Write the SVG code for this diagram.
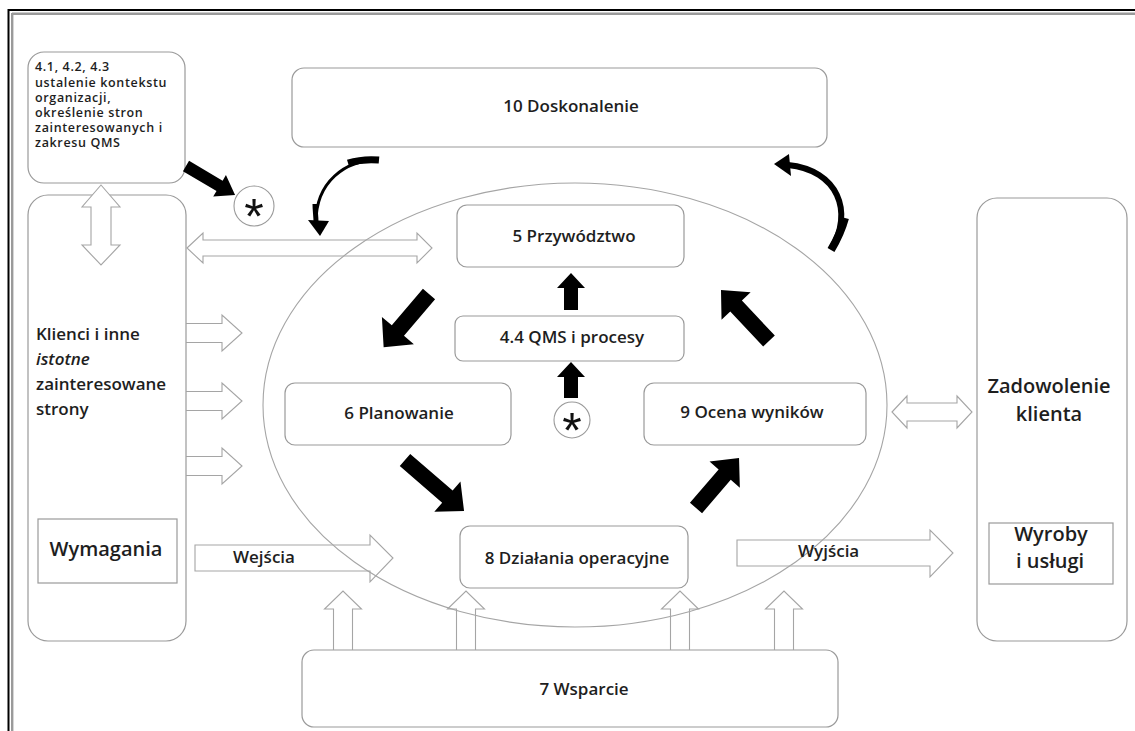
<svg xmlns="http://www.w3.org/2000/svg" width="1135" height="731" viewBox="0 0 1135 731">
<style>
.box{fill:#fff;stroke:#9a9a9a;stroke-width:1.2}
.hol{fill:none;stroke:#a5a5a5;stroke-width:1.1}
.holw{fill:#fff;stroke:#a5a5a5;stroke-width:1.1}
.blk{fill:#000}
.crv{fill:none;stroke:#000;stroke-linecap:butt}
.t{font-family:"Open Sans","Liberation Sans",sans-serif;font-weight:600;fill:#1e1e1e}
.c{text-anchor:middle}
.s17{font-size:17px}
.s20{font-size:20px}
.sm{font-size:12.5px;letter-spacing:0.65px}
.ast{font-family:"Liberation Sans",sans-serif;font-size:50px;fill:#111;text-anchor:middle}
</style>
<rect width="1135" height="731" fill="#fff"/>
<g id="frame">
<line x1="8.5" y1="9" x2="8.5" y2="731" stroke="#000" stroke-width="2"/>
<line x1="8" y1="10" x2="1135" y2="10" stroke="#000" stroke-width="2"/>
<line x1="12.2" y1="13" x2="12.2" y2="731" stroke="#9a9a9a" stroke-width="2.4"/>
<line x1="12" y1="13.7" x2="1135" y2="13.7" stroke="#9a9a9a" stroke-width="2.4"/>
</g>
<g id="loop">
<ellipse cx="575" cy="405" rx="312" ry="222" fill="none" stroke="#a5a5a5" stroke-width="1.1"/>
</g>
<g id="n_context">
<rect class="box" x="28" y="52" width="157" height="131" rx="16"/>
<text class="t sm" x="35" y="71">4.1, 4.2, 4.3</text>
<text class="t sm" x="35" y="87">ustalenie kontekstu</text>
<text class="t sm" x="35" y="102">organizacji,</text>
<text class="t sm" x="35" y="117">określenie stron</text>
<text class="t sm" x="35" y="132">zainteresowanych i</text>
<text class="t sm" x="35" y="147">zakresu QMS</text>
</g>
<g id="n_ast1">
<circle cx="254" cy="206" r="20" fill="#fff" stroke="#9a9a9a" stroke-width="1.1"/>
<text class="ast" x="254" y="234">*</text>
</g>
<g id="n_improve">
<rect class="box" x="292" y="68" width="535" height="79" rx="12"/>
<text class="t s17 c" x="571" y="112">10 Doskonalenie</text>
</g>
<g id="n_clients">
<rect class="box" x="28" y="195" width="158" height="446" rx="20"/>
<text class="t s17" x="36" y="340">Klienci i inne</text>
<text class="t s17" x="36" y="365" font-style="italic">istotne</text>
<text class="t s17" x="36" y="390">zainteresowane</text>
<text class="t s17" x="36" y="415">strony</text>
</g>
<g id="n_req">
<rect class="box" x="38" y="519" width="139" height="64"/>
<text class="t s20 c" x="106" y="556">Wymagania</text>
</g>
<g id="n_satisf">
<rect class="box" x="977" y="198" width="150" height="443" rx="20"/>
<text class="t s20 c" x="1049" y="393">Zadowolenie</text>
<text class="t s20 c" x="1049" y="421">klienta</text>
</g>
<g id="n_products">
<rect class="box" x="989" y="523" width="124" height="61"/>
<text class="t s20 c" x="1051" y="541">Wyroby</text>
<text class="t s20 c" x="1050" y="568">i usługi</text>
</g>
<g id="n_leader">
<rect class="box" x="457" y="205" width="227" height="62" rx="10"/>
<text class="t s17 c" x="574" y="242">5 Przywództwo</text>
</g>
<g id="n_qms">
<rect class="box" x="455" y="316" width="229" height="45" rx="8"/>
<text class="t s17 c" x="572" y="343">4.4 QMS i procesy</text>
</g>
<g id="n_ast2">
<circle cx="572" cy="420" r="18" fill="#fff" stroke="#9a9a9a" stroke-width="1.1"/>
<text class="ast" x="572" y="448">*</text>
</g>
<g id="n_plan">
<rect class="box" x="285" y="383" width="226" height="62" rx="10"/>
<text class="t s17 c" x="399" y="419">6 Planowanie</text>
</g>
<g id="n_eval">
<rect class="box" x="644" y="383" width="222" height="62" rx="10"/>
<text class="t s17 c" x="752" y="418">9 Ocena wyników</text>
</g>
<g id="n_ops">
<rect class="box" x="460" y="526" width="228" height="62" rx="10"/>
<text class="t s17 c" x="577" y="564">8 Działania operacyjne</text>
</g>
<g id="n_support">
<rect class="box" x="302" y="650" width="536" height="77" rx="12"/>
<text class="t s17 c" x="584" y="695">7 Wsparcie</text>
</g>
<g id="connectors">
<path class="holw" d="M101,185 L120,207 L111,207 L111,245 L120,245 L101,265 L82,245 L91,245 L91,207 L82,207 Z"/>
<path class="hol" d="M187,248 L203,233 L203,240 L417,240 L417,233 L432,248 L417,263 L417,256 L203,256 L203,263 Z"/>
<path class="hol" d="M186,323.5 L222,323.5 L222,315 L242,333 L222,351 L222,342.5 L186,342.5"/>
<path class="hol" d="M186,391.5 L222,391.5 L222,383 L242,401 L222,419 L222,410.5 L186,410.5"/>
<path class="hol" d="M186,456.5 L222,456.5 L222,448 L242,466 L222,484 L222,475.5 L186,475.5"/>
<path class="hol" d="M195,545 L370,545 L370,535 L393,558 L370,582 L370,571 L195,571 Z"/>
<path class="hol" d="M737,540 L930,540 L930,530 L953,553 L930,577 L930,566 L737,566 Z"/>
<path class="hol" d="M892,412 L907,396 L907,403 L957,403 L957,396 L972,412 L957,428 L957,421 L907,421 L907,428 Z"/>
<path class="hol" d="M352.5,650 L352.5,609 L361.5,609 L343,591 L324.5,609 L333.5,609 L333.5,650"/>
<path class="hol" d="M475.5,650 L475.5,609 L484.5,609 L466,591 L447.5,609 L456.5,609 L456.5,650"/>
<path class="hol" d="M689.5,650 L689.5,609 L698.5,609 L680,591 L661.5,609 L670.5,609 L670.5,650"/>
<path class="hol" d="M793.5,650 L793.5,609 L802.5,609 L784,591 L765.5,609 L774.5,609 L774.5,650"/>
<polygon class="blk" points="0,-6 39,-6 39,-12.5 57,0 39,12.5 39,6 0,6" transform="translate(186,166) rotate(30.6)"/>
<polygon class="blk" points="0,-8 48,-8 48,-21 70,0 48,21 48,8 0,8" transform="translate(429,294) rotate(130.4)"/>
<polygon class="blk" points="0,-8 56,-8 56,-20 78,0 56,20 56,8 0,8" transform="translate(405,460) rotate(40.8)"/>
<polygon class="blk" points="0,-8 44,-8 44,-20 66,0 44,20 44,8 0,8" transform="translate(696,508) rotate(-49.3)"/>
<polygon class="blk" points="0,-8 48,-8 48,-20 70,0 48,20 48,8 0,8" transform="translate(769,341) rotate(-133.3)"/>
<polygon class="blk" points="0,-7 22,-7 22,-14 37,0 22,14 22,7 0,7" transform="translate(571,310) rotate(-90)"/>
<polygon class="blk" points="0,-7 21,-7 21,-14 36,0 21,14 21,7 0,7" transform="translate(571,398) rotate(-90)"/>
<path class="crv" stroke-width="3" d="M378,160 C345,160 316,182 316,222"/>
<path class="crv" stroke-width="7" d="M379,160 C368,159 358,160 348,163"/>
<path class="crv" stroke-width="5" d="M315,204 C315,211 316,216 316,222"/>
<polygon class="blk" points="308,220 329,221 320,236"/>
<path class="crv" stroke-width="6" d="M831,249 C854,212 838,170 788,165"/>
<path class="crv" stroke-width="8" d="M831,250 C837,240 842,229 845,218"/>
<polygon class="blk" points="774,164 789,154 791,176"/>
</g>
<g id="labels">
<text class="t s17" x="233" y="563">Wejścia</text>
<text class="t s17" x="798" y="557">Wyjścia</text>
</g>
</svg>
